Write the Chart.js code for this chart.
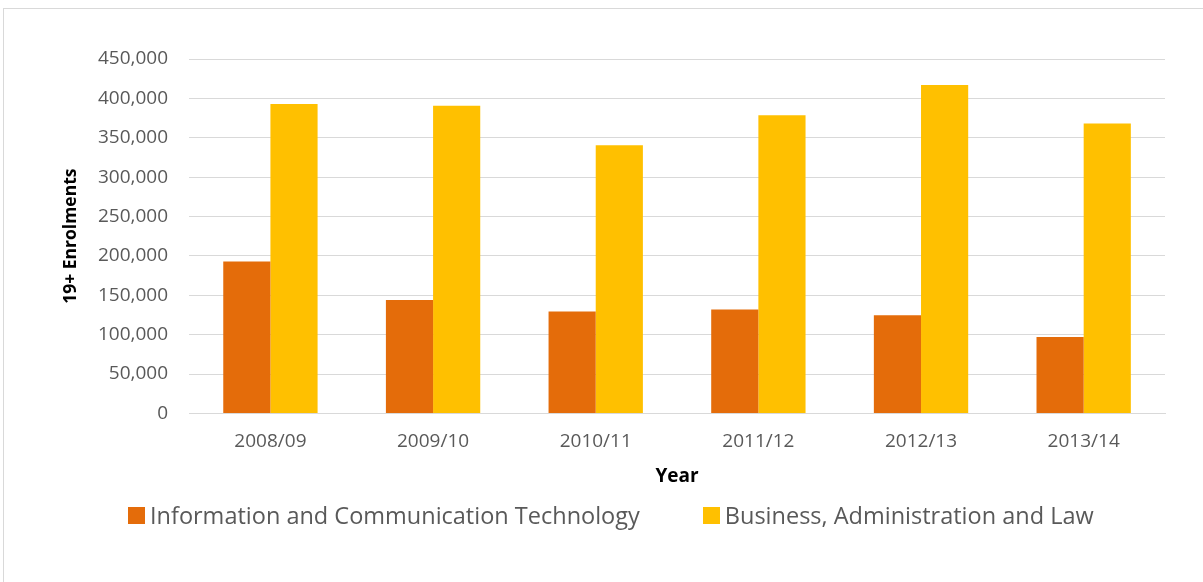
<!DOCTYPE html>
<html>
<head>
<meta charset="utf-8">
<script src="https://cdn.jsdelivr.net/npm/chart.js@4.4.1/dist/chart.umd.min.js"></script>
<style>
  html, body { margin: 0; padding: 0; background: #fff; overflow: hidden; }
  #wrap { position: absolute; left: 0; top: 0; width: 1203px; height: 582px; }
  #frame { position: absolute; left: 3px; top: 8px; width: 1300px; height: 700px;
           border: 1px solid #d9d9d9; pointer-events: none; }
  #legend { position: absolute; left: 128px; top: 501px; display: flex; align-items: center;
            font-family: 'Open Sans', 'Noto Sans', sans-serif; font-size: 23.5px; color: #595959;
            white-space: nowrap; line-height: 28px; }
  #legend .item { display: flex; align-items: center; margin-right: 63px; }
  #legend .box { width: 17px; height: 17px; margin-right: 5px; }
</style>
</head>
<body>
<div id="wrap">
  <canvas id="chart" width="1203" height="582"></canvas>
</div>
<div id="legend"></div>
<div id="frame"></div>
<script>
// data
const years = ['2008/09', '2009/10', '2010/11', '2011/12', '2012/13', '2013/14'];
const ictEnrolments = [193000, 144000, 129500, 132000, 124500, 97000];
const balEnrolments = [393000, 390500, 340500, 378500, 417000, 368000];
const yTicks = [0, 50000, 100000, 150000, 200000, 250000, 300000, 350000, 400000, 450000];

const FONT = "'Open Sans', 'Noto Sans', sans-serif";

const ctx = document.getElementById('chart').getContext('2d');

const chart = new Chart(ctx, {
  type: 'bar',
  data: {
    labels: years,
    datasets: [
      {
        label: 'Information and Communication Technology',
        data: ictEnrolments,
        backgroundColor: '#E46C0A',
        barPercentage: 1.0,
        categoryPercentage: 0.58,
      },
      {
        label: 'Business, Administration and Law',
        data: balEnrolments,
        backgroundColor: '#FFC000',
        barPercentage: 1.0,
        categoryPercentage: 0.58,
      },
    ],
  },
  options: {
    responsive: false,
    animation: false,
    layout: {
      padding: { left: 61, right: 38, top: 59, bottom: 94 },
    },
    scales: {
      x: {
        grid: { display: false, tickLength: 10 },
        border: { display: true, color: '#d9d9d9' },
        ticks: {
          color: '#595959',
          font: { family: FONT, size: 19 },
          padding: 7,
        },
        title: {
          display: true,
          text: 'Year',
          color: '#000',
          font: { family: FONT, size: 19, weight: 'bold' },
          padding: { top: 5, bottom: 0 },
        },
      },
      y: {
        min: 0,
        max: 450000,
        afterBuildTicks: (scale) => {
          scale.ticks = yTicks.map((v) => ({ value: v }));
        },
        grid: { color: '#d9d9d9', drawTicks: false },
        border: { display: false },
        ticks: {
          color: '#595959',
          font: { family: FONT, size: 19 },
          padding: 21,
          callback: (v) => v.toLocaleString('en-US'),
        },
        title: {
          display: true,
          text: '19+ Enrolments',
          color: '#000',
          font: { family: FONT, size: 17.5, weight: 'bold' },
          padding: { top: 0, bottom: -5 },
        },
      },
    },
    plugins: {
      legend: { display: false },
      tooltip: { enabled: false },
    },
  },
});

// legend built from the chart's datasets
const legendEl = document.getElementById('legend');
chart.data.datasets.forEach((ds) => {
  const item = document.createElement('div');
  item.className = 'item';
  const box = document.createElement('span');
  box.className = 'box';
  box.style.background = ds.backgroundColor;
  const text = document.createElement('span');
  text.textContent = ds.label;
  item.appendChild(box);
  item.appendChild(text);
  legendEl.appendChild(item);
});
</script>
</body>
</html>
